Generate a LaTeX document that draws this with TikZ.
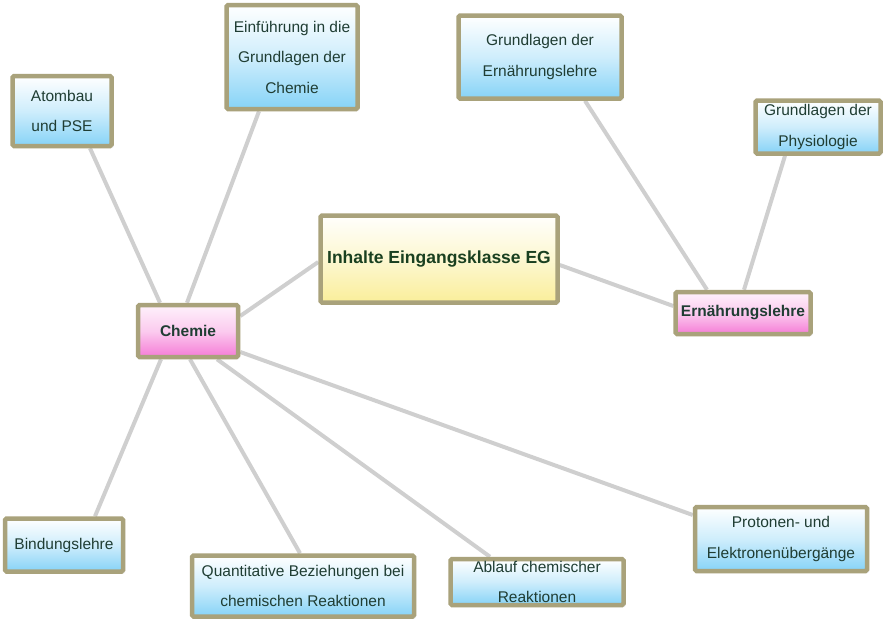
\documentclass[tikz,border=0pt]{standalone}
\usepackage{fontspec}
\setmainfont{Liberation Sans}
\usetikzlibrary{shadows,backgrounds}
\definecolor{noteborder}{HTML}{A9A27B}
\definecolor{noteblue}{HTML}{86D3F7}
\definecolor{notepink}{HTML}{F57CD6}
\definecolor{noteyellow}{HTML}{FAEE9A}
\definecolor{notetext}{HTML}{1F3D33}
\definecolor{maintext}{HTML}{1A4020}
\definecolor{linkgray}{HTML}{CFCFCF}
\tikzset{
  note/.style={draw=noteborder, line width=4.5pt, rounded corners=1.5pt,
    align=center, text=notetext, inner sep=1pt,
    font=\fontsize{15.5}{30.5}\selectfont,
    drop shadow={opacity=0.2, shadow xshift=2pt, shadow yshift=-2pt}},
  bluenote/.style={note, top color=white, bottom color=noteblue, middle color=noteblue!40},
  pinknote/.style={note, top color=white!90!notepink, bottom color=notepink, middle color=notepink!40,
    font=\fontsize{15.5}{30.5}\selectfont\bfseries},
  mainnote/.style={note, top color=white!97!noteyellow, bottom color=noteyellow, middle color=noteyellow!45,
    font=\fontsize{17.5}{30}\selectfont\bfseries, text=maintext},
  wh/.style 2 args={minimum width=#1pt, minimum height=#2pt},
  link/.style={draw=linkgray, line width=4pt}
}

\begin{document}
\begin{tikzpicture}[x=1pt, y=-1pt]
    \useasboundingbox (0,0) rectangle (886,621);

    % main topic and subtopics
    \node[mainnote, wh={237}{87}] (inhalte) at (439,259) {Inhalte Eingangsklasse EG};
    \node[pinknote, wh={100}{52}] (chemie) at (188,331) {Chemie};
    \node[pinknote, wh={135}{42}] (ernaehrung) at (743,313) {Ernährungslehre};

    % chemie
    \node[bluenote, wh={99}{70}] (atombau) at (62,111) {Atombau\\und PSE};
    \node[bluenote, wh={131}{104}] (einfuehrung) at (292,57) {Einführung in die\\Grundlagen der\\Chemie};
    \node[bluenote, wh={118}{53}] (bindung) at (64,545) {Bindungslehre};
    \node[bluenote, wh={222}{61}] (quanti) at (303,586) {Quantitative Beziehungen bei\\chemischen Reaktionen};
    \node[bluenote, wh={173}{46}] (ablauf) at (537,582) {Ablauf chemischer\\Reaktionen};
    \node[bluenote, wh={172}{64}] (protonen) at (781,539) {Protonen- und\\Elektronenübergänge};

    % ernaehrungslehre
    \node[bluenote, wh={163}{83}] (grundern) at (540,57) {Grundlagen der\\Ernährungslehre};
    \node[bluenote, wh={125}{53}] (physio) at (818,127) {Grundlagen der\\Physiologie};

    % links
    \begin{pgfonlayer}{background}
    \draw[link] ([yshift=-3pt]inhalte.west) -- ([yshift=15pt]chemie.east);
    \draw[link] ([yshift=-6pt]inhalte.east) -- ([yshift=7pt]ernaehrung.west);
    \draw[link] ([xshift=-28pt]chemie.north) -- ([xshift=28pt]atombau.south);
    \draw[link] ([xshift=-1pt]chemie.north) -- ([xshift=-33pt]einfuehrung.south);
    \draw[link] ([xshift=-27pt]chemie.south) -- ([xshift=31pt]bindung.north);
    \draw[link] ([xshift=2pt]chemie.south) -- ([xshift=-3pt]quanti.north);
    \draw[link] ([xshift=29pt]chemie.south) -- ([xshift=-47pt]ablauf.north);
    \draw[link] ([yshift=-21pt]chemie.east) -- ([yshift=24pt]protonen.west);
    \draw[link] ([xshift=-36pt]ernaehrung.north) -- ([xshift=45pt]grundern.south);
    \draw[link] ([xshift=1pt]ernaehrung.north) -- ([xshift=-33pt]physio.south);
    \end{pgfonlayer}
\end{tikzpicture}
\end{document}
